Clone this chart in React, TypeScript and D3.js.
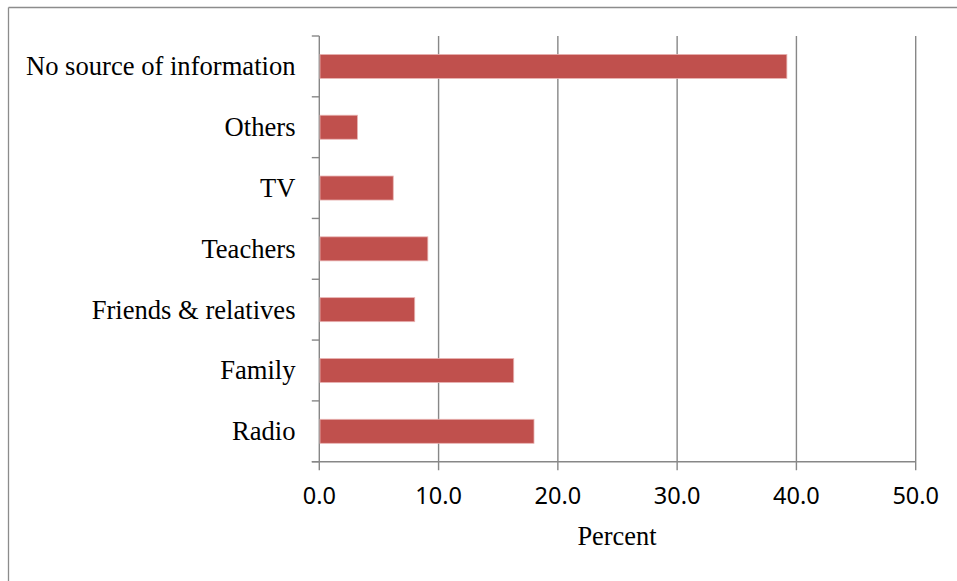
import React from "react";
import * as d3 from "d3";

const categories = [
  "No source of information",
  "Others",
  "TV",
  "Teachers",
  "Friends & relatives",
  "Family",
  "Radio",
];
const values = [39.2, 3.2, 6.2, 9.1, 8.0, 16.3, 18.0];
const xTicks = [0, 10, 20, 30, 40, 50];
const xTitle = "Percent";

const W = 957;
const H = 581;
const left = 319.3;
const right = 915.7;
const top = 36;
const bottom = 461.7;

export default function App() {
  const x = d3.scaleLinear().domain([0, 50]).range([left, right]);
  const y = d3
    .scaleBand<string>()
    .domain(categories)
    .range([top, bottom])
    .paddingInner(0.605)
    .paddingOuter(0.3025);
  const band = d3.scaleBand<string>().domain(categories).range([top, bottom]);
  const grid = "#878787";
  const bounds = [top, ...categories.map((c) => (band(c) as number) + band.bandwidth())];

  return (
    <svg
      width={W}
      height={H}
      style={{ position: "absolute", left: 0, top: 0, background: "#fff" }}
    >
      <rect x={0} y={0} width={W} height={H} fill="#fff" />
      {/* outer frame */}
      <line x1={8.5} x2={8.5} y1={7.5} y2={H} stroke="#8c8c8c" strokeWidth={1.3} />
      <line x1={8.5} x2={W} y1={7.5} y2={7.5} stroke="#8c8c8c" strokeWidth={1.3} />

      {/* vertical gridlines */}
      {xTicks.map((t) => (
        <line
          key={"g" + t}
          x1={x(t)}
          x2={x(t)}
          y1={top}
          y2={bottom + 8.5}
          stroke={grid}
          strokeWidth={1.4}
        />
      ))}
      {/* category tick marks */}
      {bounds.map((b, i) => (
        <line key={"yt" + i} x1={left - 7.5} x2={left} y1={b} y2={b} stroke={grid} strokeWidth={1.4} />
      ))}
      {/* x axis line */}
      <line x1={left - 7.5} x2={right} y1={bottom} y2={bottom} stroke={grid} strokeWidth={1.4} />

      {/* bars */}
      {categories.map((c, i) => (
        <rect
          key={c}
          x={x(0) + 0.7}
          y={y(c) as number}
          width={x(values[i]) - x(0) - 0.7}
          height={y.bandwidth()}
          fill="#C0504D"
          stroke="#e9b4b3"
          strokeWidth={0.8}
        />
      ))}

      {/* category labels */}
      {categories.map((c) => (
        <text
          key={"l" + c}
          x={295.5}
          y={(band(c) as number) + band.bandwidth() / 2 + 9}
          textAnchor="end"
          fontFamily="'Liberation Serif', 'Times New Roman', serif"
          fontSize={26.6}
          fill="#000"
        >
          {c}
        </text>
      ))}

      {/* x tick labels */}
      {xTicks.map((t) => (
        <text
          key={"xl" + t}
          x={x(t)}
          y={504}
          textAnchor="middle"
          fontFamily="'Noto Sans', sans-serif"
          fontSize={23.5}
          fill="#000"
        >
          {t.toFixed(1)}
        </text>
      ))}

      <text
        x={617}
        y={545}
        textAnchor="middle"
        fontFamily="'Liberation Serif', 'Times New Roman', serif"
        fontSize={26.4}
        fill="#000"
      >
        {xTitle}
      </text>
    </svg>
  );
}
